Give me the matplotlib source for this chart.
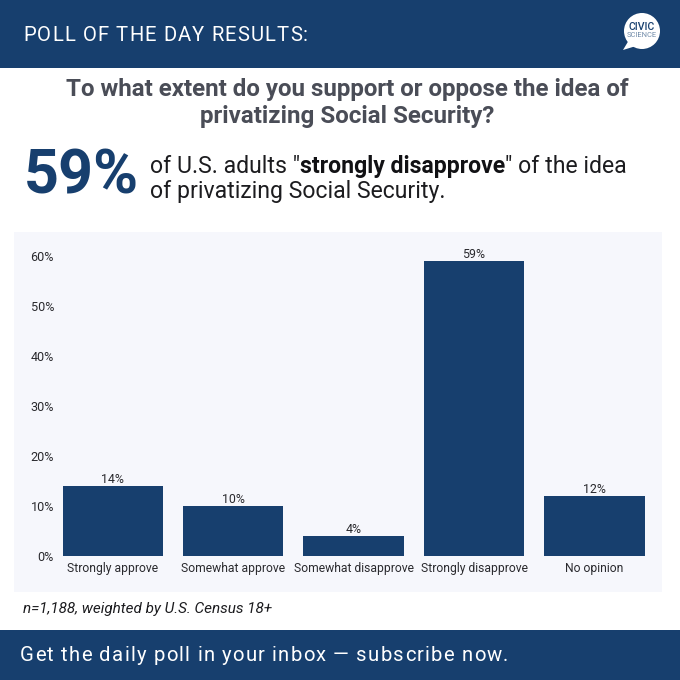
#!/usr/bin/env python3
"""Poll of the day bar chart, privatizing Social Security."""

import matplotlib
matplotlib.use("Agg")
import matplotlib.pyplot as plt
from matplotlib.patches import Circle, Polygon, Rectangle
from matplotlib.ticker import FuncFormatter

plt.rcParams["font.family"] = ["Roboto", "DejaVu Sans"]

# =========================== DATA ================================== #

categories = [
    "Strongly approve",
    "Somewhat approve",
    "Somewhat disapprove",
    "Strongly disapprove",
    "No opinion",
]
values = [14, 10, 4, 59, 12]
y_ticks = [0, 10, 20, 30, 40, 50, 60]

header = "POLL OF THE DAY RESULTS:"
question = ["To what extent do you support or oppose the idea of",
            "privatizing Social Security?"]
big_number = "59%"
footnote = "n=1,188, weighted by U.S. Census 18+"
footer = "Get the daily poll in your inbox \u2014 subscribe now."

NAVY = "#173f6e"
PANEL = "#f6f7fc"
GREY = "#4a4d57"
INK = "#1c1c1f"
SIZE = 680


def text_width(fig, ax, s, **kw):
    renderer = fig.canvas.get_renderer()
    probe = ax.text(0, 0, s, **kw)
    w = probe.get_window_extent(renderer).width
    probe.remove()
    return w


def tracked_text(fig, ax, x, y, s, spacing, **kw):
    """Write s one glyph at a time, with extra spacing in pixels."""
    for ch in s:
        ax.text(x, y, ch, ha="left", va="baseline", **kw)
        # the advance, not the ink box
        w = (text_width(fig, ax, "|" + ch + "|", **kw)
             - text_width(fig, ax, "||", **kw))
        x += w + spacing
    return x


def run_text(fig, ax, x, y, s, **kw):
    renderer = fig.canvas.get_renderer()
    t = ax.text(x, y, s, ha="left", va="baseline", **kw)
    return x + t.get_window_extent(renderer).width


fig = plt.figure(figsize=(SIZE / 100, SIZE / 100), dpi=100, facecolor="white")

# Page furniture in pixel coordinates, y going down.
page = fig.add_axes([0, 0, 1, 1], zorder=0)
page.set_xlim(0, SIZE)
page.set_ylim(SIZE, 0)
page.axis("off")

page.add_patch(Rectangle((0, 0), SIZE, 68, color=NAVY, lw=0))
page.add_patch(Rectangle((0, 630), SIZE, 50, color=NAVY, lw=0))
page.add_patch(Rectangle((14, 232), 648, 360, color=PANEL, lw=0))

tracked_text(fig, page, 23.5, 41, header, 1.12, fontsize=14.6, color="white")

# Logo
page.add_patch(Circle((642, 31), 18, color="white", lw=0))
page.add_patch(Polygon([[623, 50], [629, 40], [636, 46]], color="white", lw=0))
page.text(642, 27.5, "CIVIC", ha="center", va="center", fontsize=7.6,
          fontweight="medium", color=NAVY)
page.text(642, 35.5, "SCIENCE", ha="center", va="center", fontsize=5.4,
          color="#6f8aa8")

page.text(347.5, 96, question[0], ha="center", va="baseline", fontsize=17.4,
          fontweight="bold", color=GREY)
page.text(347.5, 123, question[1], ha="center", va="baseline", fontsize=17.4,
          fontweight="bold", color=GREY)

page.text(24, 194, big_number, ha="left", va="baseline", fontsize=44,
          fontweight="bold", color=NAVY)

x = run_text(fig, page, 150, 173, 'of U.S. adults "', fontsize=16.6, color=INK)
x = run_text(fig, page, x, 173, "strongly disapprove", fontsize=16.6,
             color="#111114", fontweight="bold")
run_text(fig, page, x, 173, '" of the idea', fontsize=16.6, color=INK)
page.text(150, 198, "of privatizing Social Security.", ha="left",
          va="baseline", fontsize=16.6, color=INK)

page.text(23, 613, footnote, ha="left", va="baseline", fontsize=11,
          style="italic", color=INK)

tracked_text(fig, page, 20, 661, footer, 1.2, fontsize=14.6, color="white")

# Bar chart: 5 px per percentage point, baseline at y=556
ax = fig.add_axes([52.6 / SIZE, (SIZE - 556) / SIZE, 602 / SIZE, 300 / SIZE],
                  zorder=1)
ax.patch.set_alpha(0)
bars = ax.bar(range(len(categories)), values, width=0.835, color=NAVY)
ax.set_xlim(-0.5, 4.5)
ax.set_ylim(0, 60)
ax.set_xticks(range(len(categories)), categories)
ax.set_yticks(y_ticks)
ax.yaxis.set_major_formatter(FuncFormatter(lambda v, _: f"{v:.0f}%"))
ax.tick_params(axis="x", length=0, labelsize=8.75, labelcolor="#2a2a2e", pad=4)
ax.tick_params(axis="y", length=0, labelsize=9.1, labelcolor="#2a2a2e", pad=-1)
for spine in ax.spines.values():
    spine.set_visible(False)

for bar, v in zip(bars, values):
    ax.annotate(f"{v}%", (bar.get_x() + bar.get_width() / 2, v),
                xytext=(0, 0.2), textcoords="offset points", ha="center",
                va="bottom", fontsize=8.9, color="#2a2a2e",
                annotation_clip=False)

fig.savefig("out.png", dpi=100)
plt.close(fig)
